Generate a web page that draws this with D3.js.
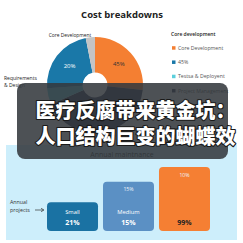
<!DOCTYPE html>
<html><head><meta charset="utf-8">
<script src="https://cdn.jsdelivr.net/npm/d3@7"></script>
<style>html,body{margin:0;padding:0;background:#fff;}svg{display:block;}</style>
</head><body>
<svg id="c" width="243" height="243"></svg>
<script>
const pieCategories = ["Core Development", "Project Management", "Testsa & Deployent", "45%", "Requirement"];
const pieValues = [26.7, 41.7, 5.5, 23, 3.1];
const pieLabels = ["45%", "2?%", "", "20%", ""];
const pieColors = ["#f47f32", "#262848", "#5ccfdc", "#1a78a8", "#c4c4c4"];
const legendTitle = "Core development";
const legendItems = ["Core Development", "45%", "Testsa & Deployent", "Project Management", "Requirement"];
const legendColors = ["#f47f32", "#1a78a8", "#5ccfdc", "#262848", "#c4c4c4"];
const barCategories = ["Small", "Medium", "Large"];
const barValues = [45, 77, 100];
const barNames = ["Small", "Medium", ""];
const barMain = ["21%", "15%", "99%"];
const barTop = ["", "15%", "10%"];
const barColors = ["#1a72a3", "#5b90c4", "#f57f33"];
const headline = ["医疗反腐带来黄金坑：", "人口结构巨变的蝴蝶效"];

const svg = d3.select("#c");
const F = "'Open Sans','Noto Sans',sans-serif";

// title
svg.append("text").attr("x", 122).attr("y", 18).attr("text-anchor", "middle")
  .attr("font-family", F).attr("font-weight", 700).attr("font-size", 9.5).attr("fill", "#222")
  .text("Cost breakdowns");

// pie
const cx = 95, cy = 85;
const pie = d3.pie().sort(null).value(d => d)(pieValues);
const arc = d3.arc().innerRadius(12.5).outerRadius(48);
const g = svg.append("g").attr("transform", `translate(${cx},${cy})`);
g.selectAll("path").data(pie).join("path").attr("d", arc)
  .attr("fill", (d, i) => pieColors[i]);
const lab = d3.arc().innerRadius(32).outerRadius(32);
g.selectAll("text.pl").data(pie).join("text").attr("class", "pl")
  .attr("transform", (d, i) => { const c = lab.centroid(d); return `translate(${c[0]},${c[1] + 2})`; })
  .attr("text-anchor", "middle").attr("font-family", F).attr("font-size", 6)
  .attr("fill", (d, i) => i === 0 ? "#333" : "#fff")
  .text((d, i) => pieLabels[i]);

// outer pie labels
svg.append("text").attr("x", 70).attr("y", 36.5).attr("text-anchor", "middle")
  .attr("font-family", F).attr("font-size", 4.9).attr("fill", "#222").text("Core Development");
svg.append("text").attr("x", 4).attr("y", 80).attr("font-family", F).attr("font-size", 5).attr("fill", "#222").text("Requirements");
svg.append("text").attr("x", 4).attr("y", 87).attr("font-family", F).attr("font-size", 5).attr("fill", "#222").text("& Design");

// legend
svg.append("text").attr("x", 171).attr("y", 35.5).attr("font-family", F).attr("font-size", 5)
  .attr("font-weight", 600).attr("fill", "#222").text(legendTitle);
const leg = svg.append("g");
const ly = d3.scalePoint().domain(legendItems).range([48, 105]);
leg.selectAll("rect").data(legendItems).join("rect")
  .attr("x", 172).attr("y", d => ly(d) - 1.8).attr("width", 3.5).attr("height", 3.5)
  .attr("fill", (d, i) => legendColors[i]);
leg.selectAll("text").data(legendItems).join("text")
  .attr("x", 178).attr("y", d => ly(d) + 1.8).attr("font-family", F).attr("font-size", 5.2)
  .attr("fill", "#555").text(d => d);

// bottom panel
svg.append("rect").attr("x", 6).attr("y", 145).attr("width", 231).attr("height", 95).attr("fill", "#cdeefb");
svg.append("text").attr("x", 122).attr("y", 157).attr("text-anchor", "middle")
  .attr("font-family", F).attr("font-size", 7).attr("fill", "#1e1e1e").text("Annual maintnance");

const x = d3.scaleBand().domain(barCategories).range([47, 210]).paddingInner(0.089);
const y = d3.scaleLinear().domain([0, 100]).range([231, 167]);
const bars = svg.append("g");
bars.selectAll("rect").data(barValues).join("rect")
  .attr("x", (d, i) => x(barCategories[i])).attr("y", d => y(d))
  .attr("width", x.bandwidth()).attr("height", d => y(0) - y(d))
  .attr("rx", 4).attr("fill", (d, i) => barColors[i]);
bars.selectAll("text.nm").data(barNames).join("text").attr("class", "nm")
  .attr("x", (d, i) => x(barCategories[i]) + x.bandwidth() / 2).attr("y", 214)
  .attr("text-anchor", "middle").attr("font-family", F).attr("font-size", 5.8).attr("fill", "#fff").text(d => d);
bars.selectAll("text.mn").data(barMain).join("text").attr("class", "mn")
  .attr("x", (d, i) => x(barCategories[i]) + x.bandwidth() / 2).attr("y", 224.5)
  .attr("text-anchor", "middle").attr("font-family", F).attr("font-weight", 700).attr("font-size", 7)
  .attr("fill", (d, i) => i === 2 ? "#222" : "#fff").text(d => d);
bars.selectAll("text.tp").data(barTop).join("text").attr("class", "tp")
  .attr("x", (d, i) => x(barCategories[i]) + x.bandwidth() / 2).attr("y", (d, i) => y(barValues[i]) + 9.5)
  .attr("text-anchor", "middle").attr("font-family", F).attr("font-size", 5.2).attr("fill", "#eef4fa").text(d => d);

svg.append("text").attr("x", 10).attr("y", 204).attr("font-family", F).attr("font-size", 5.3).attr("fill", "#333").text("Annual");
svg.append("text").attr("x", 10).attr("y", 211.5).attr("font-family", F).attr("font-size", 5.3).attr("fill", "#333").text("projects");
svg.append("line").attr("x1", 35).attr("x2", 43).attr("y1", 210).attr("y2", 210).attr("stroke", "#333").attr("stroke-width", 0.7);
svg.append("path").attr("d", "M41,208.3L44,210L41,211.7").attr("fill", "none").attr("stroke", "#333").attr("stroke-width", 0.7);

// banner
svg.append("rect").attr("x", 17).attr("y", 83).attr("width", 211).attr("height", 76).attr("rx", 8)
  .attr("fill", "#34393e").attr("fill-opacity", 0.88);
svg.selectAll("text.hl").data(headline).join("text").attr("class", "hl")
  .attr("x", 35.5).attr("y", (d, i) => 118 + i * 26)
  .attr("font-family", "'Noto Sans CJK SC'").attr("font-weight", 900).attr("font-size", 20)
  .attr("fill", "#fff").attr("stroke", "#1a1a1a").attr("stroke-width", 2.2)
  .attr("stroke-linejoin", "round").attr("paint-order", "stroke").text(d => d);
</script>
</body></html>
